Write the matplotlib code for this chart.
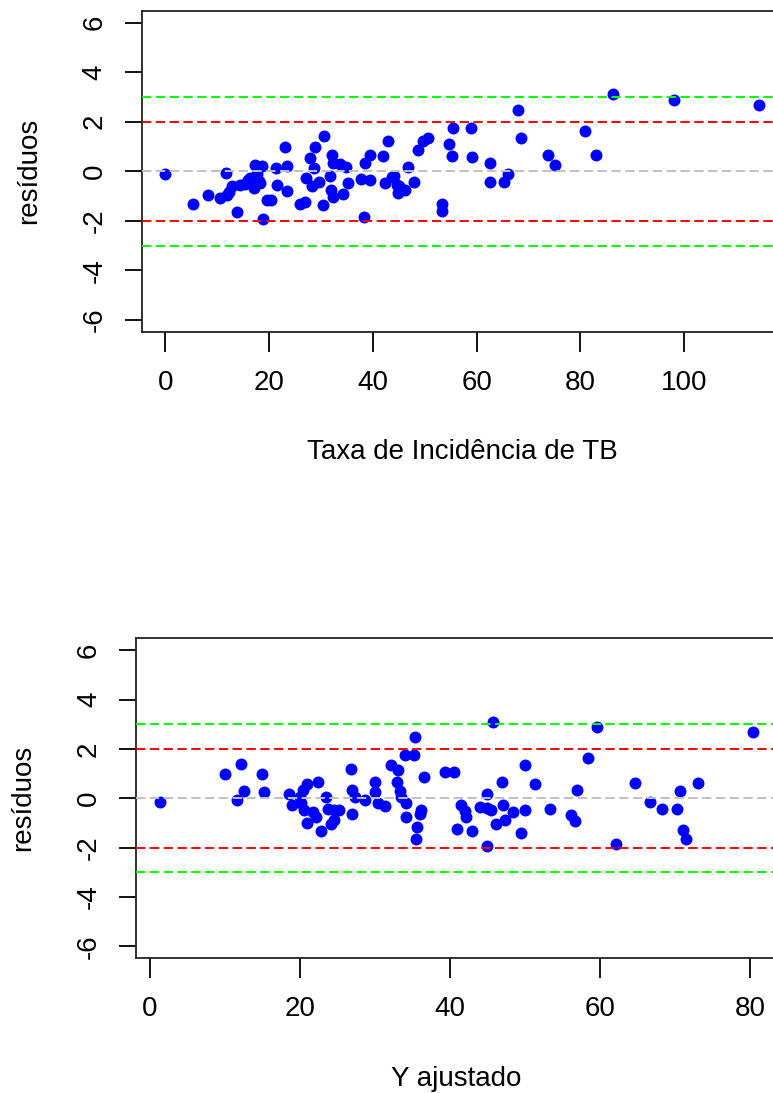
import matplotlib
matplotlib.use("Agg")
import matplotlib.pyplot as plt
import numpy as np

# --- data ---
taxa_tb = [0.0, 5.3, 8.3, 10.6, 11.7, 11.9, 12.2, 12.8, 13.8, 14.4, 15.3, 16.0, 16.4,
           17.0, 17.3, 17.6, 18.0, 18.3, 18.6, 18.8, 19.6, 20.3, 21.4, 21.5, 23.1,
           23.4, 23.4, 26.0, 27.0, 27.1, 27.9, 28.3, 28.6, 28.9, 29.6, 30.5, 30.4,
           31.8, 32.1, 32.3, 31.9, 32.4, 33.7, 34.9, 34.3, 35.3, 37.7, 38.2, 38.5,
           39.5, 39.5, 41.9, 43.0, 42.4, 43.7, 44.0, 44.6, 44.8, 45.0, 46.2, 46.7,
           47.9, 48.8, 49.6, 50.6, 53.4, 53.4, 54.6, 55.2, 55.5, 58.9, 59.2, 62.5,
           62.5, 65.2, 66.0, 67.9, 68.6, 73.8, 75.2, 81.0, 83.0, 86.3, 98.0, 114.4]
res_taxa = [-0.13, -1.32, -0.97, -1.08, -0.07, -0.97, -0.85, -0.61, -1.66, -0.54, -0.50,
            -0.34, -0.27, -0.67, 0.27, -0.13, -0.40, -0.47, 0.20, -1.95, -1.18, -1.18,
            0.13, -0.54, 0.98, 0.22, -0.78, -1.31, -1.25, -0.27, 0.52, -0.58, 0.13,
            0.98, -0.43, 1.41, -1.37, -0.18, 0.67, 0.35, -0.76, -1.03, 0.30, 0.15,
            -0.91, -0.47, -0.30, -1.86, 0.34, 0.64, -0.37, 0.63, 1.21, -0.47, -0.25,
            -0.20, -0.54, -0.90, -0.61, -0.74, 0.18, -0.42, 0.86, 1.21, 1.35, -1.33,
            -1.62, 1.08, 0.63, 1.75, 1.75, 0.58, 0.35, -0.42, -0.43, -0.12, 2.46,
            1.35, 0.65, 0.27, 1.62, 0.65, 3.10, 2.88, 2.67]

y_ajustado = [1.35, 10.1, 12.2, 11.7, 12.6, 15.0, 15.2, 18.6, 19.0, 20.0, 20.4, 20.9,
              22.4, 20.2, 20.6, 21.7, 20.9, 22.2, 22.8, 23.5, 23.7, 24.2, 24.6, 25.2,
              24.6, 26.8, 26.9, 27.3, 26.9, 28.7, 30.0, 30.0, 30.4, 31.3, 32.2, 33.1,
              33.0, 33.3, 33.5, 34.2, 34.2, 34.0, 35.2, 35.3, 36.6, 36.2, 36.0, 35.6,
              35.5, 39.3, 40.6, 41.5, 42.0, 42.1, 40.9, 43.0, 44.0, 44.9, 45.5, 44.9,
              44.9, 45.7, 46.9, 47.1, 46.2, 47.3, 48.4, 49.4, 50.0, 50.0, 51.3, 53.3,
              56.1, 56.6, 56.9, 58.4, 59.6, 62.1, 64.6, 66.7, 68.3, 70.2, 70.6, 71.1,
              71.4, 73.0, 80.4]
res_ajust = [-0.15, 1.00, 1.40, -0.08, 0.28, 1.00, 0.24, 0.19, -0.28, 0.05, 0.32, 0.59,
             0.68, -0.21, -0.48, -0.57, -1.01, -0.75, -1.32, 0.05, -0.42, -1.03, -0.48,
             -0.46, -0.89, 1.20, 0.32, 0.06, -0.62, -0.08, 0.66, 0.24, -0.21, -0.33,
             1.35, 1.16, 0.66, 0.30, 0.06, -0.19, -0.75, 1.76, 1.76, 2.48, 0.85, -0.48,
             -0.65, -1.17, -1.65, 1.06, 1.06, -0.26, -0.50, -0.77, -1.25, -1.31, -0.35,
             -0.40, -0.48, 0.17, -1.92, 3.10, 0.64, -0.27, -1.05, -0.86, -0.55, -1.40,
             -0.48, 1.35, 0.57, -0.42, -0.66, -0.93, 0.35, 1.63, 2.88, -1.87, 0.63,
             -0.15, -0.42, -0.42, 0.28, -1.29, -1.63, 0.63, 2.68]

y_ticks = [-6, -4, -2, 0, 2, 4, 6]
ref_lines = [(0, "#C0C0C0"), (2, "#FF0000"), (-2, "#FF0000"), (3, "#00FF00"), (-3, "#00FF00")]

# --- style ---
W, H = 773, 1093
FS = 20
plt.rcParams.update({
    "font.family": ["Liberation Sans", "DejaVu Sans"],
    "font.size": FS,
    "axes.unicode_minus": False,
})

fig = plt.figure(figsize=(W / 100, H / 100), dpi=100)


def panel(box, x, y, xticks, xlabel, xlab_off):
    """box = (left, top, right, bottom) in pixels."""
    left, top, right, bottom = box
    ax = fig.add_axes([left / W, 1 - bottom / H, (right - left) / W, (bottom - top) / H])

    ax.plot(x, y, "o", color="#0000FF", markersize=8.6, markeredgewidth=0, zorder=2)
    for level, col in ref_lines:
        ax.axhline(level, color=col, linewidth=1.4, dashes=(4.8, 2.3), zorder=3)

    # R-style 4% padding on x
    span = max(x) - min(x)
    ax.set_xlim(min(x) - 0.04 * span, max(x) + 0.04 * span)
    ax.set_ylim(-6.48, 6.48)
    ax.set_xticks(xticks)
    ax.set_yticks(y_ticks)
    ax.set_xticklabels([str(t) for t in xticks])
    ax.set_yticklabels([str(t) for t in y_ticks])
    ax.tick_params(axis="x", length=14.4, width=1.3, pad=13, labelsize=FS)
    ax.tick_params(axis="y", length=12, width=1.3, pad=12.5, labelsize=FS, labelrotation=90)
    for lab in ax.get_yticklabels():
        lab.set_va("center")
    for sp in ax.spines.values():
        sp.set_linewidth(1.3)
        sp.set_color("#222222")

    fig.text(((left + right) / 2) / W, 1 - (bottom + xlab_off) / H, xlabel,
             ha="center", va="center", fontsize=FS)
    fig.text((left - 113) / W, 1 - ((top + bottom) / 2) / H, "resíduos",
             ha="center", va="center", rotation=90, fontsize=FS)
    return ax


panel((141.7, 10.7, 782.4, 331.7), taxa_tb, res_taxa, list(range(0, 101, 20)),
      "Taxa de Incidência de TB", 120)
panel((136.0, 638.3, 777.0, 958.3), y_ajustado, res_ajust, list(range(0, 81, 20)),
      "Y ajustado", 121)

fig.savefig("out.png", dpi=100)
